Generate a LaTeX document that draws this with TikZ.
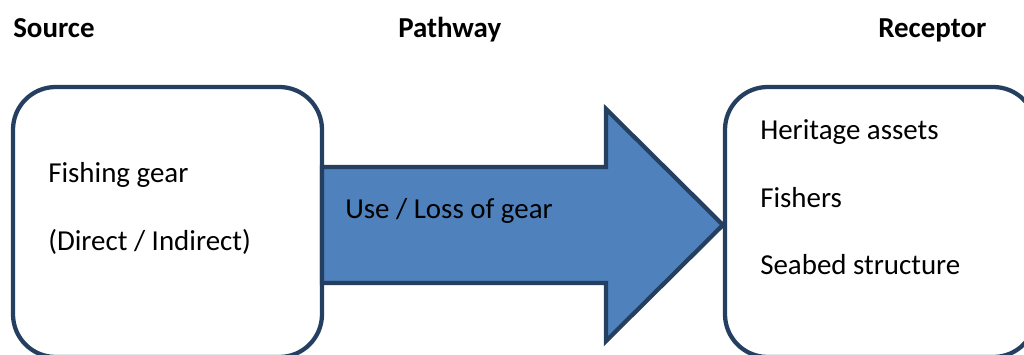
\documentclass[tikz,border=0pt]{standalone}
\usepackage{fontspec}
\setmainfont{Carlito}
\definecolor{edge}{HTML}{243F60}
\definecolor{arrowfill}{HTML}{4F81BD}
\tikzset{
  frame/.style={draw=edge, line width=3.2pt, fill=white, rounded corners=32pt},
  bodytext/.style={anchor=base west, inner sep=0pt, font=\fontsize{21.7}{26}\selectfont},
  headtext/.style={anchor=base west, inner sep=0pt, font=\fontsize{21.7}{26}\selectfont\bfseries},
  flow/.style={draw=edge, line width=3.2pt, fill=arrowfill, line join=miter}
}
\begin{document}
\begin{tikzpicture}[x=0.75pt, y=-0.75pt]
\useasboundingbox (0,0) rectangle (1024,354);
\clip (0,0) rectangle (1024,354);
% boxes
\draw[frame] (13,87) rectangle (322,357);
\draw[frame] (725,87) rectangle (1036,357);
% arrow
\draw[flow] (322,167) -- (606,167) -- (606,109) -- (723,225) -- (606,341) -- (606,283) -- (322,283) -- cycle;
\coordinate (tip) at (723,225);
% headers
\node[headtext] (src) at (13,37) {Source};
\node[headtext] (path) at (398,37) {Pathway};
\node[headtext] (rec) at (878,37) {Receptor};
% texts
\node[bodytext] (fg) at (48,182) {Fishing gear};
\node[bodytext] (di) at (48,250) {(Direct / Indirect)};
\node[bodytext] (use) at (345,218) {Use / Loss of gear};
\node[bodytext] (ha) at (760,139) {Heritage assets};
\node[bodytext] (fi) at (760,207) {Fishers};
\node[bodytext] (sb) at (760,274) {Seabed structure};
\end{tikzpicture}
\end{document}
